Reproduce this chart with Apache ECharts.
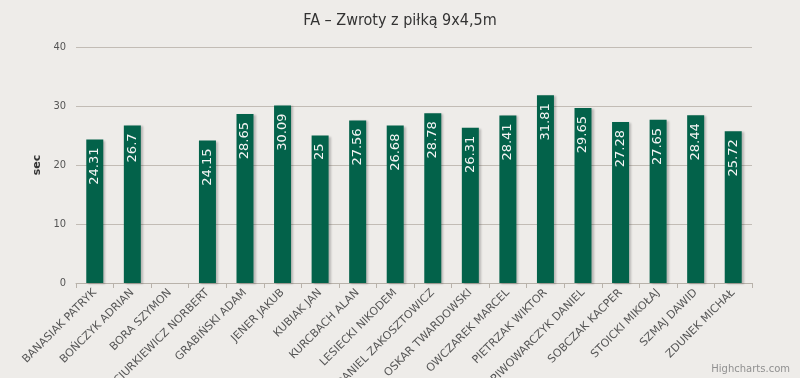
<!DOCTYPE html>
<html>
<head>
<meta charset="utf-8">
<script src="https://cdn.jsdelivr.net/npm/echarts@6/dist/echarts.min.js"></script>
<style>
  html, body { margin: 0; padding: 0; background: #eeece9; }
  #chart { width: 800px; height: 378px; }
</style>
</head>
<body>
<div id="chart"></div>
<script>
const players = [
  "BANASIAK PATRYK", "BOŃCZYK ADRIAN", "BORA SZYMON", "CIURKIEWICZ NORBERT",
  "GRABIŃSKI ADAM", "JENER JAKUB", "KUBIAK JAN", "KURCBACH ALAN",
  "LESIECKI NIKODEM", "DANIEL ZAKOSZTOWICZ", "OSKAR TWARDOWSKI", "OWCZAREK MARCEL",
  "PIETRZAK WIKTOR", "PIWOWARCZYK DANIEL", "SOBCZAK KACPER", "STOICKI MIKOŁAJ",
  "SZMAJ DAWID", "ZDUNEK MICHAŁ"
];
const times = [
  24.31, 26.7, null, 24.15, 28.65, 30.09, 25, 27.56, 26.68,
  28.78, 26.31, 28.41, 31.81, 29.65, 27.28, 27.65, 28.44, 25.72
];
const yTicks = { min: 0, max: 40, interval: 10 };

const chart = echarts.init(document.getElementById("chart"));

const option = {
  backgroundColor: "#eeece9",
  animation: false,
  title: {
    text: "FA – Zwroty z piłką 9x4,5m",
    left: "center",
    top: 8,
    textStyle: {
      fontFamily: "DejaVu Sans Condensed",
      fontSize: 16,
      fontWeight: "normal",
      color: "#333333"
    }
  },
  graphic: [{
    type: "text",
    right: 10,
    bottom: 4,
    style: {
      text: "Highcharts.com",
      fontFamily: "DejaVu Sans",
      fontSize: 10,
      fill: "#909090"
    }
  }],
  grid: { left: 76, right: 48, top: 47, bottom: 95, outerBoundsMode: "none" },
  xAxis: {
    type: "category",
    data: players,
    axisLine: { lineStyle: { color: "#b8b2aa", width: 1 } },
    axisTick: { show: true, length: 5, lineStyle: { color: "#b8b2aa" } },
    axisLabel: {
      rotate: 45,
      interval: 0,
      margin: 8,
      fontFamily: "DejaVu Sans",
      fontSize: 11,
      color: "#555555"
    }
  },
  yAxis: {
    type: "value",
    min: yTicks.min,
    max: yTicks.max,
    interval: yTicks.interval,
    name: "sec",
    nameLocation: "middle",
    nameGap: 30,
    nameRotate: 90,
    nameTextStyle: {
      fontFamily: "DejaVu Sans",
      fontSize: 11,
      fontWeight: "bold",
      color: "#333333"
    },
    axisLine: { show: false },
    axisTick: { show: false },
    axisLabel: {
      margin: 10,
      fontFamily: "DejaVu Sans Condensed",
      fontSize: 11,
      color: "#555555"
    },
    splitLine: { lineStyle: { color: "#c2bcb5", width: 1 } }
  },
  series: [{
    type: "bar",
    data: times,
    barWidth: 17,
    itemStyle: {
      color: "#03624a",
      shadowColor: "rgba(0,0,0,0.22)",
      shadowBlur: 2,
      shadowOffsetX: 2,
      shadowOffsetY: 1
    },
    label: {
      show: true,
      position: "insideTop",
      rotate: 90,
      align: "right",
      verticalAlign: "middle",
      distance: 8,
      fontFamily: "DejaVu Sans",
      fontSize: 13,
      color: "#f4f4f4"
    }
  }]
};

chart.setOption(option);
</script>
</body>
</html>
